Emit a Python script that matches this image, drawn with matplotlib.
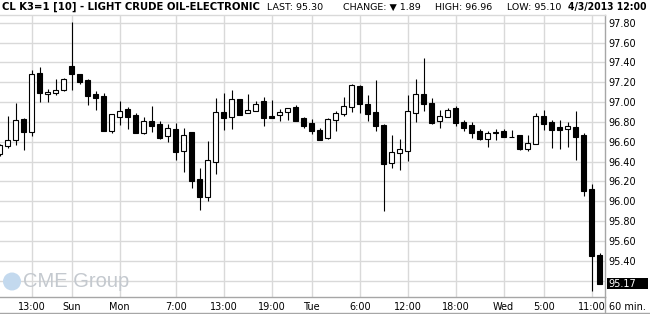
import matplotlib
matplotlib.use("Agg")
import matplotlib.pyplot as plt
from matplotlib.patches import Rectangle, Ellipse
from matplotlib.lines import Line2D
from matplotlib import font_manager
import matplotlib.transforms as mtransforms

# hourly OHLC (bar index 0..75)
opens = [96.48, 96.56, 96.62, 96.83, 96.70, 97.29, 97.08, 97.09, 97.12, 97.36,
         97.28, 97.22, 97.08, 97.06, 96.71, 96.85, 96.93, 96.87, 96.69, 96.81,
         96.775, 96.655, 96.725, 96.51, 96.70, 96.225, 96.045, 96.40, 96.905, 96.845,
         97.03, 96.885, 96.913, 97.01, 96.855, 96.866, 96.896, 96.95, 96.84, 96.79,
         96.715, 96.635, 96.815, 96.876, 96.946, 97.16, 96.98, 96.90, 96.765, 96.39,
         96.483, 96.503, 96.886, 97.077, 96.987, 96.805, 96.846, 96.936, 96.80, 96.768,
         96.705, 96.63, 96.69, 96.707, 96.652, 96.667, 96.53, 96.573, 96.855, 96.795,
         96.744, 96.724, 96.748, 96.667, 96.123, 95.457]
highs = [96.58, 96.86, 96.99, 96.84, 97.32, 97.35, 97.13, 97.23, 97.24, 97.81,
         97.28, 97.23, 97.11, 97.09, 96.88, 97.01, 96.95, 96.89, 96.85, 96.96,
         96.805, 96.775, 96.79, 96.735, 96.70, 96.34, 96.61, 97.04, 97.09, 97.12,
         97.035, 97.085, 97.015, 97.05, 97.02, 96.93, 96.94, 96.97, 96.85, 96.83,
         96.74, 96.84, 96.915, 97.05, 97.18, 97.17, 97.07, 97.22, 96.78, 96.665,
         96.625, 97.07, 97.23, 97.44, 97.04, 96.925, 96.945, 96.965, 96.815, 96.80,
         96.725, 96.707, 96.727, 96.727, 96.72, 96.667, 96.667, 96.895, 96.92, 96.818,
         96.818, 96.798, 96.91, 96.687, 96.17, 95.477]
lows = [96.46, 96.54, 96.57, 96.52, 96.66, 97.00, 97.00, 97.07, 97.11, 97.12,
        97.18, 96.97, 96.92, 96.71, 96.69, 96.77, 96.73, 96.69, 96.68, 96.70,
        96.63, 96.60, 96.42, 96.295, 96.13, 95.915, 96.005, 96.27, 96.715, 96.73,
        96.87, 96.885, 96.91, 96.76, 96.835, 96.81, 96.82, 96.81, 96.74, 96.68,
        96.62, 96.63, 96.71, 96.855, 96.905, 96.886, 96.81, 96.71, 95.905, 96.34,
        96.32, 96.41, 96.80, 96.91, 96.775, 96.74, 96.845, 96.76, 96.71, 96.64,
        96.62, 96.55, 96.62, 96.65, 96.645, 96.516, 96.506, 96.573, 96.72, 96.54,
        96.529, 96.549, 96.418, 96.056, 95.094, 95.17]
closes = [96.57, 96.62, 96.815, 96.70, 97.28, 97.09, 97.10, 97.12, 97.23, 97.28,
          97.205, 97.06, 97.04, 96.71, 96.88, 96.91, 96.85, 96.69, 96.81, 96.76,
          96.64, 96.735, 96.50, 96.67, 96.20, 96.045, 96.415, 96.905, 96.84, 97.035,
          96.87, 96.925, 96.98, 96.84, 96.843, 96.90, 96.936, 96.81, 96.76, 96.71,
          96.62, 96.826, 96.886, 96.956, 97.17, 96.977, 96.876, 96.76, 96.38, 96.50,
          96.523, 96.906, 97.077, 96.977, 96.792, 96.856, 96.916, 96.792, 96.741, 96.691,
          96.631, 96.684, 96.697, 96.65, 96.645, 96.526, 96.586, 96.855, 96.781, 96.72,
          96.72, 96.754, 96.653, 96.10, 95.444, 95.17]

tick_pos = [4, 9, 15, 22, 28, 34, 39, 45, 51, 57, 63, 68, 74]
tick_labels = ["13:00", "Sun", "Mon", "7:00", "13:00", "19:00", "Tue",
               "6:00", "12:00", "18:00", "Wed", "5:00", "11:00"]
price_ticks = [95.20, 95.40, 95.60, 95.80, 96.00, 96.20, 96.40,
               96.60, 96.80, 97.00, 97.20, 97.40, 97.60, 97.80]

W, H = 650, 314
fig = plt.figure(figsize=(W / 100, H / 100), dpi=100)
fig.patch.set_facecolor("white")


def narrow_bold():
    # look for an installed condensed / narrow bold face, else plain bold
    for f in font_manager.fontManager.ttflist:
        name = f.name.lower()
        cond = ("narrow" in name or "condensed" in name
                or str(f.stretch).lower() in ("condensed", "semi-condensed"))
        bold = f.weight in ("bold", 700, "700") or (isinstance(f.weight, int) and f.weight >= 600)
        if cond and bold:
            return font_manager.FontProperties(fname=f.fname)
    return font_manager.FontProperties(family="DejaVu Sans", weight="bold")


ax_left, ax_right = 0, 605.3
ax_top, ax_bot = 14.5, 296.7
ax = fig.add_axes([ax_left / W, (H - ax_bot) / H,
                   (ax_right - ax_left) / W, (ax_bot - ax_top) / H])

grid_c = "#d9d9d9"
axis_c = "#a6a6a6"

# CME watermark
fig.add_artist(Ellipse((12 / W, (H - 281.5) / H), 18 / W, 18 / H,
                       transform=fig.transFigure, facecolor="#c3d9ee",
                       edgecolor="none", zorder=0.5))
fig.text(23 / W, (H - 281.5) / H, "CME Group", fontsize=14.5, color="#c4c9cf",
         ha="left", va="center", family="Liberation Sans", zorder=0.5)
ax.patch.set_alpha(0)

# candles
idx = list(range(len(opens)))
ax.vlines(idx, lows, highs, color="black", linewidth=0.8, zorder=3)
for i, o, c in zip(idx, opens, closes):
    bottom = min(o, c)
    height = max(abs(c - o), 0.004)
    face = "white" if c > o else "black"
    ax.bar(i, height, bottom=bottom, width=0.58, facecolor=face,
           edgecolor="black", linewidth=0.8, zorder=4)

last = closes[-1]
ax.set_xlim(0.04, 75.7)
ax.set_ylim(95.038, 97.883)
ax.set_xticks(tick_pos)
ax.set_xticklabels(tick_labels)
ax.set_yticks(price_ticks)
# the label under the last-price box is hidden, as on the original
ax.set_yticklabels(["" if abs(p - last) < 0.1 else f"{p:.2f}" for p in price_ticks])
ax.yaxis.tick_right()
ax.tick_params(axis="both", length=0, labelsize=7, colors="black")
ax.tick_params(axis="y", pad=2.2)
ax.tick_params(axis="x", pad=4)
ax.grid(True, color=grid_c, linewidth=1.0, zorder=0)
ax.set_axisbelow(True)
ax.spines["left"].set_visible(False)
ax.spines["top"].set_color(grid_c)
ax.spines["bottom"].set_color(axis_c)
ax.spines["right"].set_color(axis_c)
for side in ["top", "bottom", "right"]:
    ax.spines[side].set_linewidth(1.0)

# right axis line continues to the bottom, frame line at the very bottom
fig.add_artist(Line2D([ax_right / W, ax_right / W], [0, (H - ax_bot) / H],
                      transform=fig.transFigure, color=axis_c, linewidth=1.0))
fig.add_artist(Line2D([0, 1], [0.8 / H, 0.8 / H],
                      transform=fig.transFigure, color=axis_c, linewidth=1.0))

# last price box
trans = mtransforms.blended_transform_factory(fig.transFigure, ax.transData)
ax.add_patch(Rectangle((606.7 / W, last - 0.058), 41.6 / W, 0.116, transform=trans,
                       facecolor="black", edgecolor="none", clip_on=False, zorder=6))
ax.text(608.5 / W, last, f"{last:.2f}", transform=trans, color="white", fontsize=7,
        ha="left", va="center", clip_on=False, zorder=7)
fig.text(609 / W, (H - 306.5) / H, "60 min.", fontsize=7, ha="left", va="center")

# header
hy = (H - 7) / H
fp = narrow_bold()
renderer = fig.canvas.get_renderer()


def fitted_text(x, text, width_px, ha="left"):
    # size the bold header text so it spans the same width as on the original
    fpt = fp.copy()
    fpt.set_size(10)
    t = fig.text(x / W, hy, text, fontproperties=fpt, ha=ha, va="center")
    w = t.get_window_extent(renderer).width
    fpt.set_size(10 * width_px / w)
    t.set_fontproperties(fpt)
    return t


fitted_text(2, "CL K3=1 [10] - LIGHT CRUDE OIL-ELECTRONIC", 260)
fitted_text(646, "4/3/2013 12:00", 79, ha="right")
fig.text(267 / W, hy, "LAST: 95.30", fontsize=6.8, ha="left", va="center")
fig.text(343 / W, hy, "CHANGE: \u25bc 1.89", fontsize=6.8, ha="left", va="center")
fig.text(435 / W, hy, "HIGH: 96.96", fontsize=6.8, ha="left", va="center")
fig.text(507 / W, hy, "LOW: 95.10", fontsize=6.8, ha="left", va="center")

fig.savefig("out.png", dpi=100)
